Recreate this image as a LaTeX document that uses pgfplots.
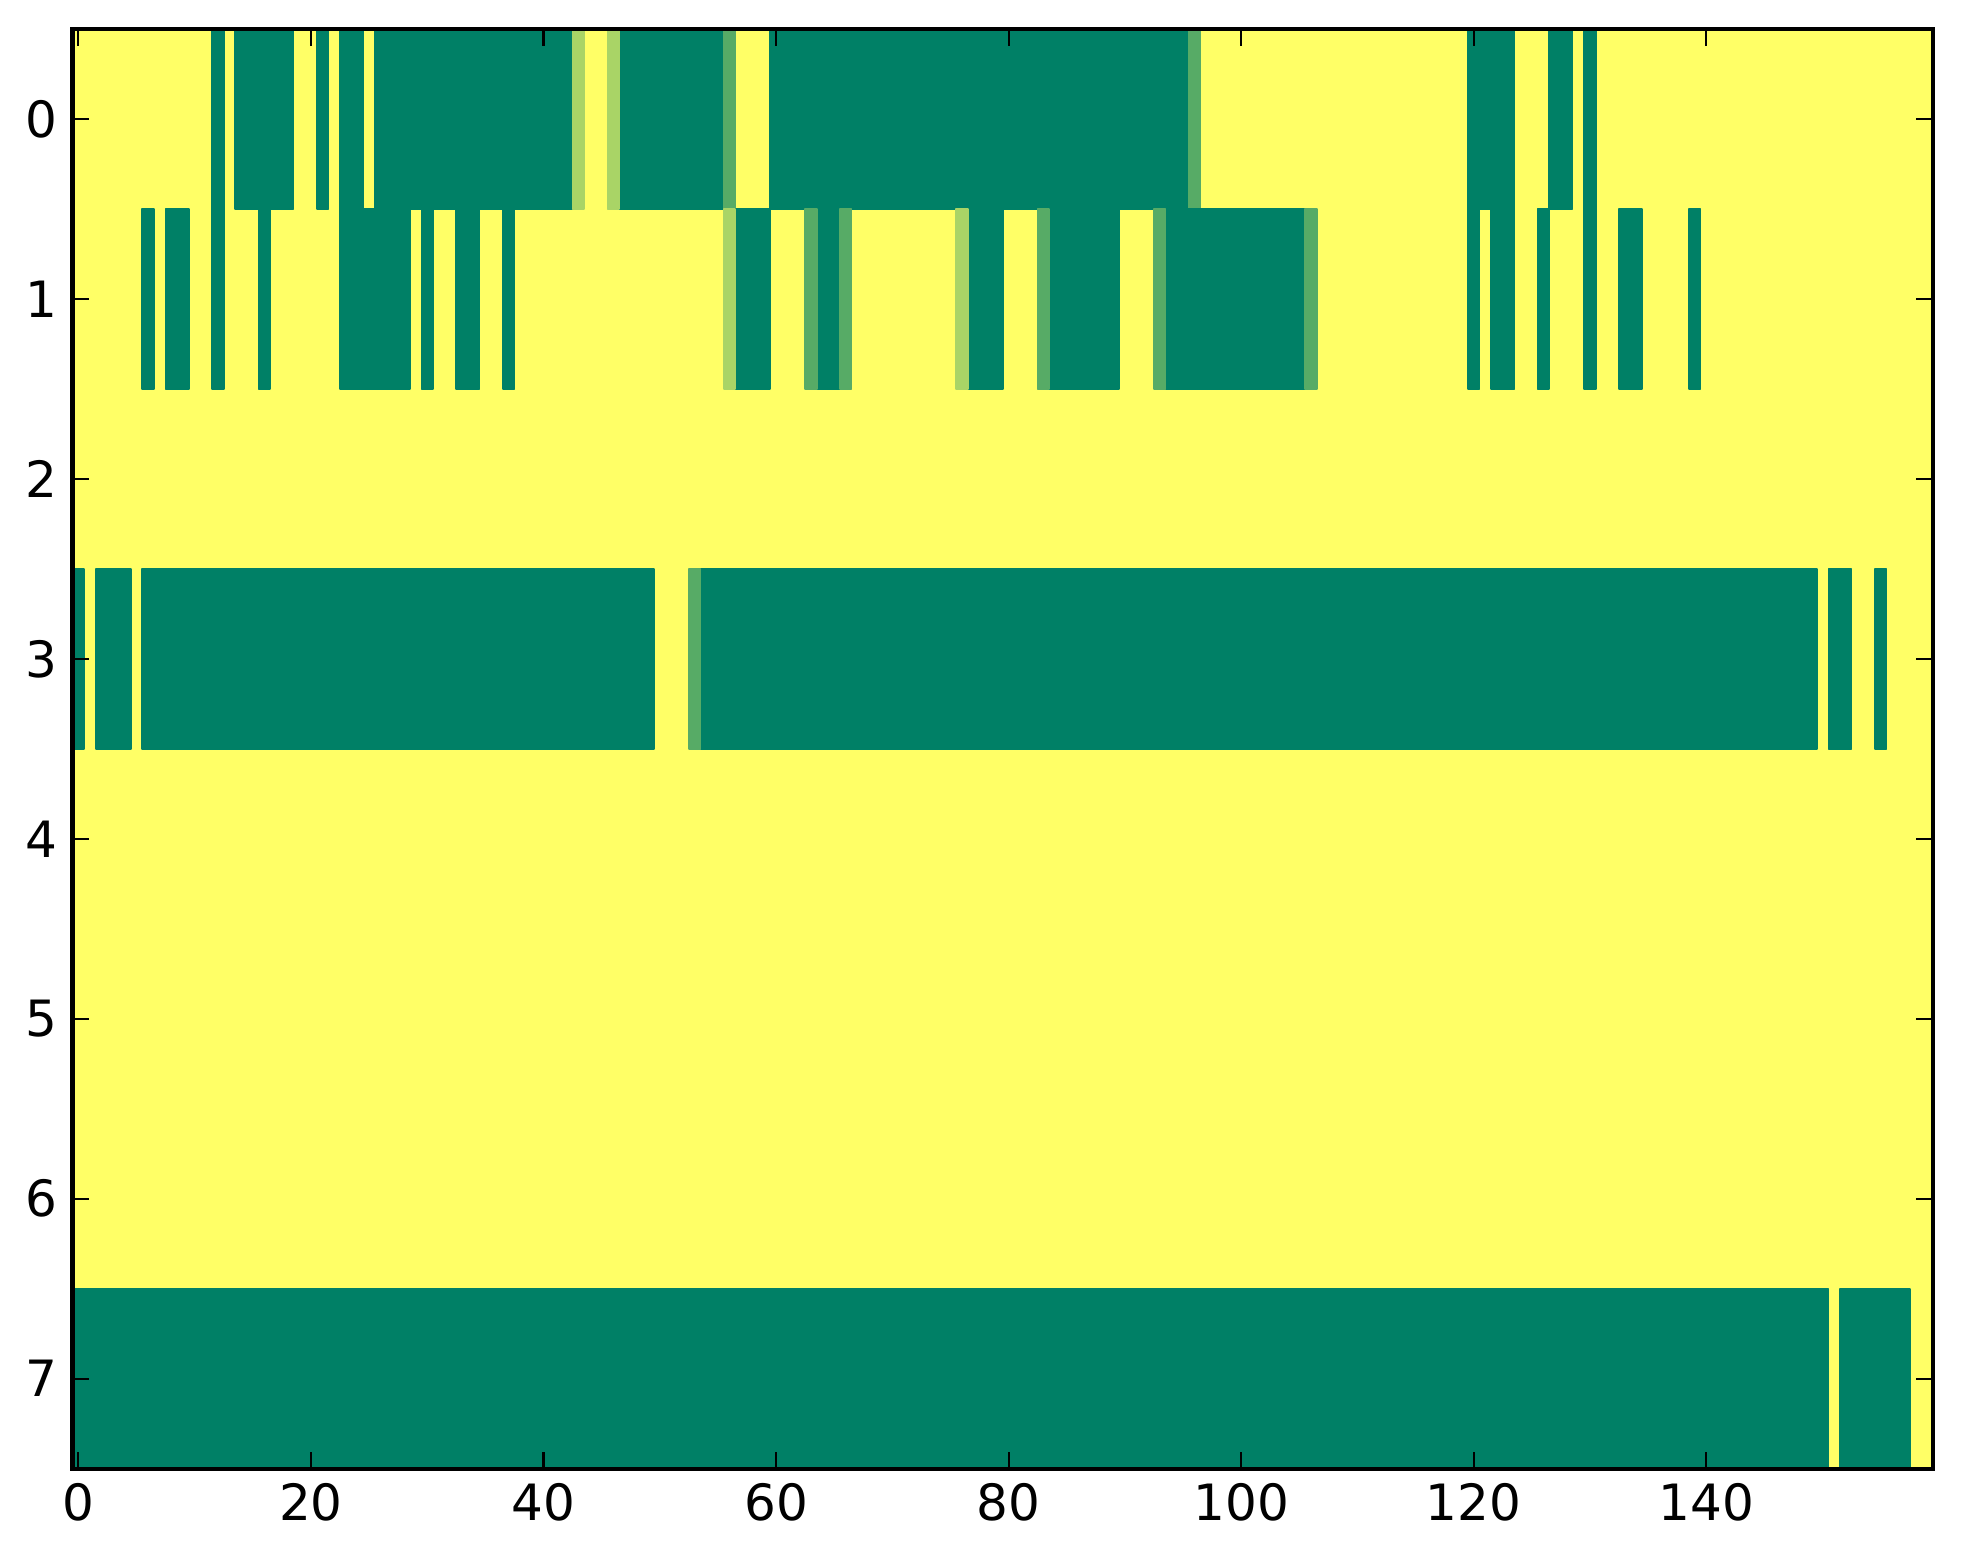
\documentclass[border=0pt]{standalone}
\usepackage{pgfplots}
\pgfplotsset{compat=1.18}
\usepackage{fontspec}
\setmainfont{DejaVu Sans}
\begin{document}
\begin{tikzpicture}
\begin{axis}[
  name=ax,
  at={(0,0)}, anchor=south west,
  scale only axis, width=446.3pt, height=345.3pt,
  xmin=-0.5, xmax=159.5, ymin=-0.5, ymax=7.5, y dir=reverse,
  xtick={0,20,...,140}, ytick={0,...,7},
  tick align=inside, major tick length=4pt,
  tick style={black, line width=0.5pt},
  axis line style={black, line width=1pt},
  ticklabel style={font=\fontsize{12}{14}\selectfont},
  /pgf/number format/assume math mode=true,
  colormap={summer}{rgb=(0,0.5,0.4) rgb=(1,1,0.4)},
  point meta min=0, point meta max=1,
  axis on top,
]
\addplot[patch, patch type=rectangle, shader=flat, point meta=explicit] coordinates {
(-0.5,-0.5)[1] (159.5,-0.5)[1] (159.5,7.5)[1] (-0.5,7.5)[1]
% row 0
(11.5,-0.5)[0] (12.5,-0.5)[0] (12.5,0.5)[0] (11.5,0.5)[0]
(13.5,-0.5)[0] (18.5,-0.5)[0] (18.5,0.5)[0] (13.5,0.5)[0]
(20.5,-0.5)[0] (21.5,-0.5)[0] (21.5,0.5)[0] (20.5,0.5)[0]
(22.5,-0.5)[0] (24.5,-0.5)[0] (24.5,0.5)[0] (22.5,0.5)[0]
(25.5,-0.5)[0] (42.5,-0.5)[0] (42.5,0.5)[0] (25.5,0.5)[0]
(46.5,-0.5)[0] (55.5,-0.5)[0] (55.5,0.5)[0] (46.5,0.5)[0]
(59.5,-0.5)[0] (95.5,-0.5)[0] (95.5,0.5)[0] (59.5,0.5)[0]
(119.5,-0.5)[0] (123.5,-0.5)[0] (123.5,0.5)[0] (119.5,0.5)[0]
(126.5,-0.5)[0] (128.5,-0.5)[0] (128.5,0.5)[0] (126.5,0.5)[0]
(129.5,-0.5)[0] (130.5,-0.5)[0] (130.5,0.5)[0] (129.5,0.5)[0]
(42.5,-0.5)[0.66] (43.5,-0.5)[0.66] (43.5,0.5)[0.66] (42.5,0.5)[0.66]
(45.5,-0.5)[0.66] (46.5,-0.5)[0.66] (46.5,0.5)[0.66] (45.5,0.5)[0.66]
(55.5,-0.5)[0.34] (56.5,-0.5)[0.34] (56.5,0.5)[0.34] (55.5,0.5)[0.34]
(95.5,-0.5)[0.34] (96.5,-0.5)[0.34] (96.5,0.5)[0.34] (95.5,0.5)[0.34]
% row 1
(5.5,0.5)[0] (6.5,0.5)[0] (6.5,1.5)[0] (5.5,1.5)[0]
(7.5,0.5)[0] (9.5,0.5)[0] (9.5,1.5)[0] (7.5,1.5)[0]
(11.5,0.5)[0] (12.5,0.5)[0] (12.5,1.5)[0] (11.5,1.5)[0]
(15.5,0.5)[0] (16.5,0.5)[0] (16.5,1.5)[0] (15.5,1.5)[0]
(22.5,0.5)[0] (28.5,0.5)[0] (28.5,1.5)[0] (22.5,1.5)[0]
(29.5,0.5)[0] (30.5,0.5)[0] (30.5,1.5)[0] (29.5,1.5)[0]
(32.5,0.5)[0] (34.5,0.5)[0] (34.5,1.5)[0] (32.5,1.5)[0]
(36.5,0.5)[0] (37.5,0.5)[0] (37.5,1.5)[0] (36.5,1.5)[0]
(56.5,0.5)[0] (59.5,0.5)[0] (59.5,1.5)[0] (56.5,1.5)[0]
(63.5,0.5)[0] (65.5,0.5)[0] (65.5,1.5)[0] (63.5,1.5)[0]
(76.5,0.5)[0] (79.5,0.5)[0] (79.5,1.5)[0] (76.5,1.5)[0]
(83.5,0.5)[0] (89.5,0.5)[0] (89.5,1.5)[0] (83.5,1.5)[0]
(93.5,0.5)[0] (105.5,0.5)[0] (105.5,1.5)[0] (93.5,1.5)[0]
(119.5,0.5)[0] (120.5,0.5)[0] (120.5,1.5)[0] (119.5,1.5)[0]
(121.5,0.5)[0] (123.5,0.5)[0] (123.5,1.5)[0] (121.5,1.5)[0]
(125.5,0.5)[0] (126.5,0.5)[0] (126.5,1.5)[0] (125.5,1.5)[0]
(129.5,0.5)[0] (130.5,0.5)[0] (130.5,1.5)[0] (129.5,1.5)[0]
(132.5,0.5)[0] (134.5,0.5)[0] (134.5,1.5)[0] (132.5,1.5)[0]
(138.5,0.5)[0] (139.5,0.5)[0] (139.5,1.5)[0] (138.5,1.5)[0]
(55.5,0.5)[0.66] (56.5,0.5)[0.66] (56.5,1.5)[0.66] (55.5,1.5)[0.66]
(75.5,0.5)[0.66] (76.5,0.5)[0.66] (76.5,1.5)[0.66] (75.5,1.5)[0.66]
(62.5,0.5)[0.34] (63.5,0.5)[0.34] (63.5,1.5)[0.34] (62.5,1.5)[0.34]
(65.5,0.5)[0.34] (66.5,0.5)[0.34] (66.5,1.5)[0.34] (65.5,1.5)[0.34]
(82.5,0.5)[0.34] (83.5,0.5)[0.34] (83.5,1.5)[0.34] (82.5,1.5)[0.34]
(92.5,0.5)[0.34] (93.5,0.5)[0.34] (93.5,1.5)[0.34] (92.5,1.5)[0.34]
(105.5,0.5)[0.34] (106.5,0.5)[0.34] (106.5,1.5)[0.34] (105.5,1.5)[0.34]
% row 3
(-0.5,2.5)[0] (0.5,2.5)[0] (0.5,3.5)[0] (-0.5,3.5)[0]
(1.5,2.5)[0] (4.5,2.5)[0] (4.5,3.5)[0] (1.5,3.5)[0]
(5.5,2.5)[0] (49.5,2.5)[0] (49.5,3.5)[0] (5.5,3.5)[0]
(53.5,2.5)[0] (149.5,2.5)[0] (149.5,3.5)[0] (53.5,3.5)[0]
(150.5,2.5)[0] (152.5,2.5)[0] (152.5,3.5)[0] (150.5,3.5)[0]
(154.5,2.5)[0] (155.5,2.5)[0] (155.5,3.5)[0] (154.5,3.5)[0]
(52.5,2.5)[0.34] (53.5,2.5)[0.34] (53.5,3.5)[0.34] (52.5,3.5)[0.34]
% row 7
(-0.5,6.5)[0] (150.5,6.5)[0] (150.5,7.5)[0] (-0.5,7.5)[0]
(151.5,6.5)[0] (157.5,6.5)[0] (157.5,7.5)[0] (151.5,7.5)[0]
};
\end{axis}
\pgfresetboundingbox
\path (ax.south west) ++(-17.4pt,-23.0pt) rectangle ([xshift=7.2pt,yshift=7.0pt]ax.north east);
\end{tikzpicture}
\end{document}
